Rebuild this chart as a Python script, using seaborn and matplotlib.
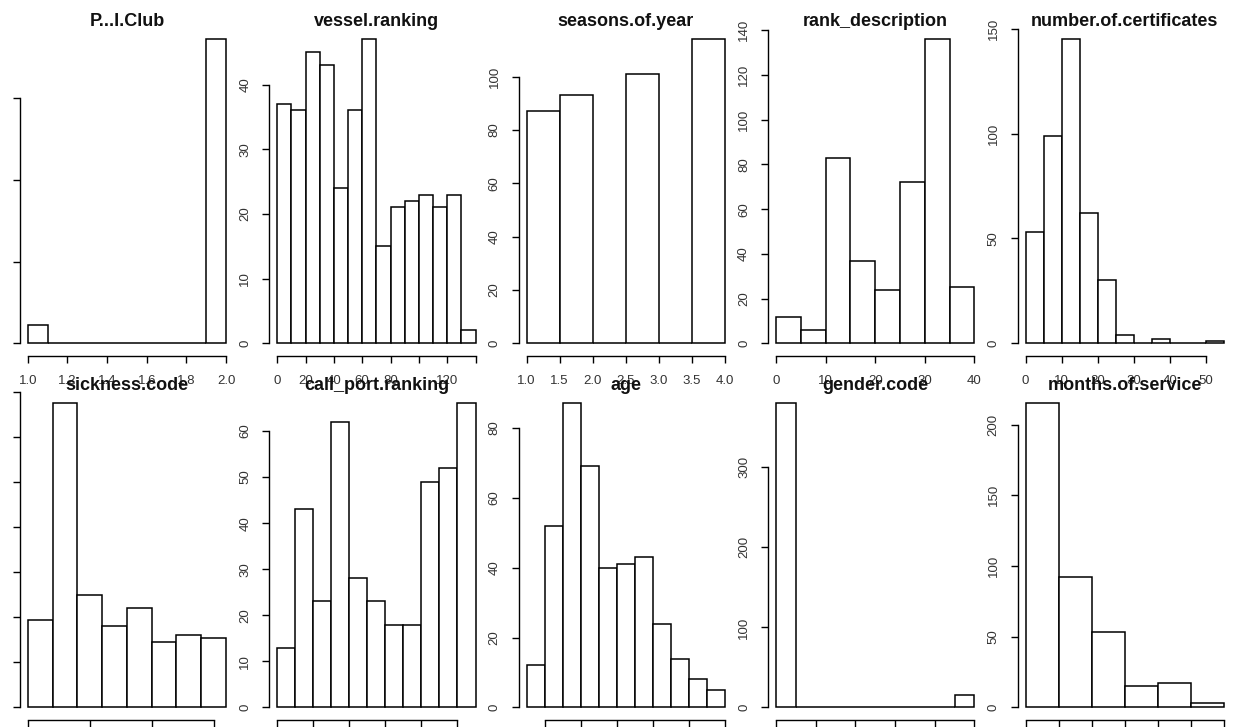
import matplotlib
matplotlib.use("Agg")
import matplotlib.pyplot as plt
import seaborn as sns
import numpy as np
import pandas as pd

# ---------------- data ----------------
titles = ["P...I.Club", "vessel.ranking", "seasons.of.year", "rank_description",
          "number.of.certificates", "sickness.code", "call_port.ranking", "age",
          "gender.code", "months.of.service"]

pi_club_breaks = [1.0, 1.1, 1.2, 1.3, 1.4, 1.5, 1.6, 1.7, 1.8, 1.9, 2.0]
pi_club_counts = [23, 0, 0, 0, 0, 0, 0, 0, 0, 372]

vessel_breaks = [0, 10, 20, 30, 40, 50, 60, 70, 80, 90, 100, 110, 120, 130, 140]
vessel_counts = [37, 36, 45, 43, 24, 36, 47, 15, 21, 22, 23, 21, 23, 2]

seasons_breaks = [1.0, 1.5, 2.0, 2.5, 3.0, 3.5, 4.0]
seasons_counts = [87, 93, 0, 101, 0, 114]

rank_breaks = [0, 5, 10, 15, 20, 25, 30, 35, 40]
rank_counts = [12, 6, 83, 37, 24, 72, 136, 25]

cert_breaks = [0, 5, 10, 15, 20, 25, 30, 35, 40, 45, 50, 55]
cert_counts = [53, 99, 145, 62, 30, 4, 0, 2, 0, 0, 1]

sick_breaks = [0, 2, 4, 6, 8, 10, 12, 14, 16]
sick_counts = [39, 135, 50, 36, 44, 29, 32, 31]

port_breaks = [0, 10, 20, 30, 40, 50, 60, 70, 80, 90, 100, 110]
port_counts = [13, 43, 23, 62, 28, 23, 18, 18, 49, 52, 66]

age_breaks = [15, 20, 25, 30, 35, 40, 45, 50, 55, 60, 65, 70]
age_counts = [12, 52, 87, 69, 40, 41, 43, 24, 14, 8, 5]

gender_breaks = [1.0, 1.1, 1.2, 1.3, 1.4, 1.5, 1.6, 1.7, 1.8, 1.9, 2.0]
gender_counts = [380, 0, 0, 0, 0, 0, 0, 0, 0, 15]

months_breaks = [0, 20, 40, 60, 80, 100, 120]
months_counts = [215, 92, 53, 15, 17, 3]

# tick values and labels ('' = label dropped because it would overlap)
x_ticks = [
    [1.0, 1.2, 1.4, 1.6, 1.8, 2.0],
    [0, 20, 40, 60, 80, 100, 120, 140],
    [1.0, 1.5, 2.0, 2.5, 3.0, 3.5, 4.0],
    [0, 10, 20, 30, 40],
    [0, 10, 20, 30, 40, 50],
    [0, 5, 10, 15],
    [0, 20, 40, 60, 80, 100],
    [20, 30, 40, 50, 60, 70],
    [1.0, 1.2, 1.4, 1.6, 1.8, 2.0],
    [0, 20, 40, 60, 80, 100, 120],
]
x_labels = [
    ["1.0", "1.2", "1.4", "1.6", "1.8", "2.0"],
    ["0", "20", "40", "60", "80", "", "120", ""],
    ["1.0", "1.5", "2.0", "2.5", "3.0", "3.5", "4.0"],
    ["0", "10", "20", "30", "40"],
    ["0", "10", "20", "30", "40", "50"],
    ["0", "5", "10", "15"],
    ["0", "20", "40", "60", "80", "100"],
    ["20", "30", "40", "50", "60", "70"],
    ["1.0", "1.2", "1.4", "1.6", "1.8", "2.0"],
    ["0", "20", "40", "60", "80", "100", "120"],
]
y_ticks = [
    [0, 100, 200, 300],
    [0, 10, 20, 30, 40],
    [0, 20, 40, 60, 80, 100],
    [0, 20, 40, 60, 80, 100, 120, 140],
    [0, 50, 100, 150],
    [0, 20, 40, 60, 80, 100, 120, 140],
    [0, 10, 20, 30, 40, 50, 60],
    [0, 20, 40, 60, 80],
    [0, 100, 200, 300],
    [0, 50, 100, 150, 200],
]

breaks_all = [pi_club_breaks, vessel_breaks, seasons_breaks, rank_breaks, cert_breaks,
              sick_breaks, port_breaks, age_breaks, gender_breaks, months_breaks]
counts_all = [pi_club_counts, vessel_counts, seasons_counts, rank_counts, cert_counts,
              sick_counts, port_counts, age_counts, gender_counts, months_counts]

# ---------------- figure ----------------
sns.set_style("white")
plt.rcParams["font.family"] = ["Liberation Sans", "DejaVu Sans"]

W, H = 1235, 727
fig = plt.figure(figsize=(W / 100, H / 100), dpi=100)
fig.patch.set_facecolor("white")

col_left0, col_step, plot_w = 19.8, 249.45, 214.2
row_tops = [27.1, 391.2]
plot_h = 328.4

for i in range(10):
    r, c = divmod(i, 5)
    left = col_left0 + col_step * c
    top = row_tops[r]
    ax = fig.add_axes([left / W, 1 - (top + plot_h) / H, plot_w / W, plot_h / H])
    ax.set_facecolor("white")

    br = [float(b) for b in breaks_all[i]]
    cnt = [float(v) for v in counts_all[i]]
    df = pd.DataFrame({
        "value": [(br[k] + br[k + 1]) / 2 for k in range(len(cnt))],
        "count": cnt,
    })
    sns.histplot(data=df, x="value", weights="count", bins=br, ax=ax, stat="count",
                 color="white", edgecolor="black", linewidth=1.1, alpha=1, fill=True)

    lo, hi = br[0], br[-1]
    ax.set_xlim(lo - 0.04 * (hi - lo), hi + 0.04 * (hi - lo))
    m = max(cnt)
    ax.set_ylim(-0.04 * m, 1.04 * m)
    ax.set_xlabel("")
    ax.set_ylabel("")

    for s in ["top", "right"]:
        ax.spines[s].set_visible(False)
    for s in ["left", "bottom"]:
        ax.spines[s].set_visible(True)
        ax.spines[s].set_color("black")
        ax.spines[s].set_linewidth(1.0)
    ax.spines["left"].set_bounds(y_ticks[i][0], y_ticks[i][-1])
    ax.spines["bottom"].set_bounds(x_ticks[i][0], x_ticks[i][-1])

    ax.set_xticks(x_ticks[i])
    ax.set_xticklabels(x_labels[i])
    ax.set_yticks(y_ticks[i])
    ax.set_yticklabels([str(v) for v in y_ticks[i]], rotation=90, va="center")
    ax.tick_params(axis="both", direction="out", length=5, width=1.0,
                   color="black", labelcolor="#333333", labelsize=9.5,
                   bottom=True, left=True)
    ax.tick_params(axis="x", pad=9)
    ax.tick_params(axis="y", pad=8)
    ax.grid(False)

    ax.text(0.5, 1.0 + 1.0 / plot_h, titles[i], transform=ax.transAxes,
            ha="center", va="baseline", fontsize=13, fontweight="bold",
            color="#111111", clip_on=False)

fig.savefig("out.png", dpi=100, facecolor="white")
